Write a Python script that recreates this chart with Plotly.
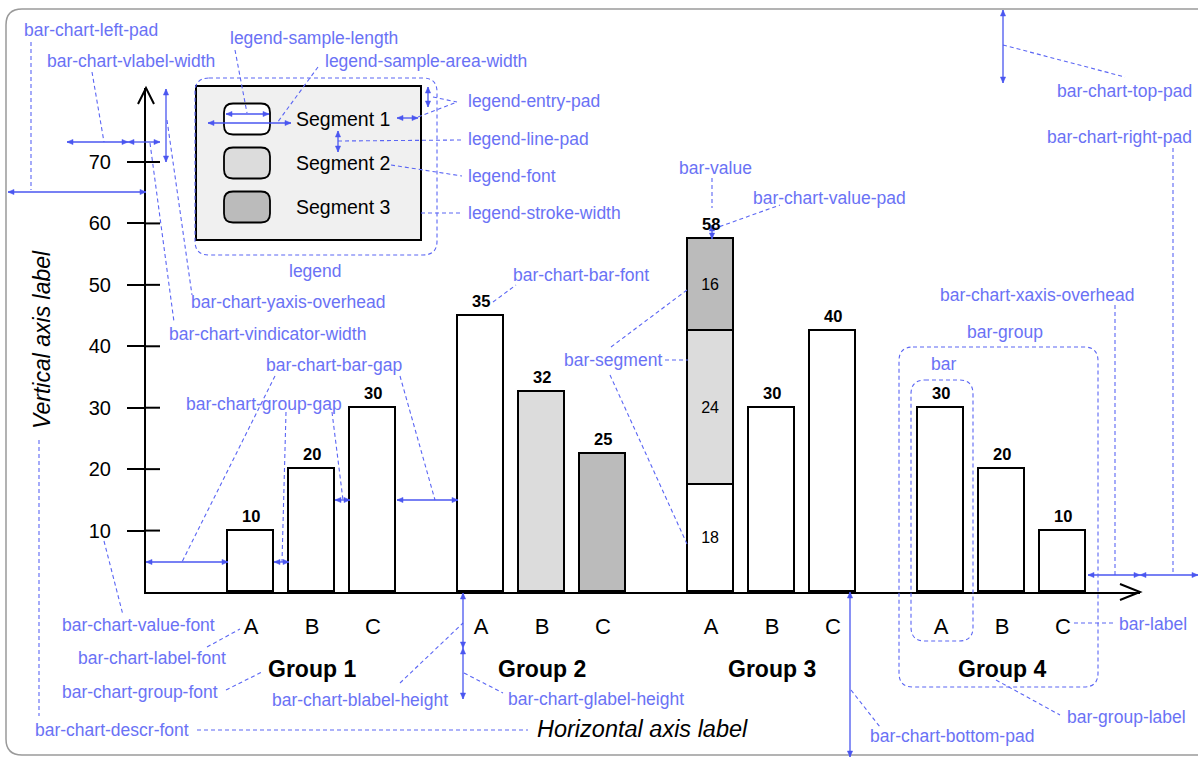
import math
import plotly.graph_objects as go

# ---------------- data ----------------
groups = ["Group 1", "Group 2", "Group 3", "Group 4"]
bar_labels = ["A", "B", "C"]
series_names = ["Segment 1", "Segment 2", "Segment 3"]
seg1 = [10, 20, 30, 45, None, None, 17.5, 30, 42.5, 30, 20, 10]
seg2 = [None, None, None, None, 32.5, None, 25, None, None, None, None, None]
seg3 = [None, None, None, None, None, 22.5, 15, None, None, None, None, None]
seg1_text = ["", "", "", "", "", "", "18", "", "", "", "", ""]
seg2_text = ["", "", "", "", "", "", "24", "", "", "", "", ""]
seg3_text = ["", "", "", "", "", "", "16", "", "", "", "", ""]
value_labels = ["10", "20", "30", "35", "32", "25", "58", "30", "40", "30", "20", "10"]
y_ticks = [10, 20, 30, 40, 50, 60, 70]
x_title = "Horizontal axis label"
y_title = "Vertical axis label"

# ---------------- styling / layout constants ----------------
FONT = "Liberation Sans, Arial, Helvetica, sans-serif"
SEG_COLORS = ["#ffffff", "#dcdcdc", "#bbbbbb"]
BL_TEXT = "#6a72f5"
BL_LINE = "#5b66f4"
BL_ARROW = "#4a56f0"
W, H = 1198, 757
PX0, PX1, PY0, PY1 = 146, 1140, 88, 592   # plot area in pixels
PX_PER_UNIT = 6.143
BAR_W = 46
FIRST, BAR_STEP, GROUP_STEP = 105, 61, 230

x_pos = [FIRST + g * GROUP_STEP + b * BAR_STEP for g in range(len(groups)) for b in range(len(bar_labels))]
series = [seg1, seg2, seg3]
series_text = [seg1_text, seg2_text, seg3_text]
totals = [sum(v for v in col if v is not None) for col in zip(*series)]


def fx(px):
    return (px - PX0) / (PX1 - PX0)


def fy(py):
    return (PY1 - py) / (PY1 - PY0)


fig = go.Figure()
for name, vals, txt, col in zip(series_names, series, series_text, SEG_COLORS):
    fig.add_trace(go.Bar(
        x=x_pos, y=vals, name=name, width=BAR_W, text=txt,
        textposition="inside", insidetextanchor="middle",
        textfont=dict(family=FONT, size=16, color="black"),
        marker=dict(color=col, line=dict(color="black", width=1.8)),
        showlegend=False, hoverinfo="skip",
    ))

shapes = []
annotations = []


def dline(x0, y0, x1, y1):
    shapes.append(dict(type="line", xref="paper", yref="paper",
                       x0=fx(x0), y0=fy(y0), x1=fx(x1), y1=fy(y1),
                       line=dict(color=BL_LINE, width=1.1, dash="4px,3px")))


def head(xa, ya, xb, yb):
    # arrow head at (xb,yb) pointing from (xa,ya)
    dx, dy = xb - xa, yb - ya
    d = math.hypot(dx, dy) or 1
    ux, uy = dx / d, dy / d
    nx, ny = -uy, ux
    L, Wd = 6, 2.6
    p = [(xb, yb), (xb - ux * L + nx * Wd, yb - uy * L + ny * Wd),
         (xb - ux * L - nx * Wd, yb - uy * L - ny * Wd)]
    path = "M" + " L".join(f"{fx(a):.5f},{fy(b):.5f}" for a, b in p) + " Z"
    shapes.append(dict(type="path", xref="paper", yref="paper", path=path,
                       fillcolor=BL_ARROW, line=dict(color=BL_ARROW, width=0.5)))


def arrow(x0, y0, x1, y1):
    shapes.append(dict(type="line", xref="paper", yref="paper",
                       x0=fx(x0), y0=fy(y0), x1=fx(x1), y1=fy(y1),
                       line=dict(color=BL_ARROW, width=1.3)))
    head(x0, y0, x1, y1)
    head(x1, y1, x0, y0)


def rr_path(x0, y0, x1, y1, r):
    pts = [("M", x0 + r, y0), ("L", x1 - r, y0), ("Q", x1, y0, x1, y0 + r),
           ("L", x1, y1 - r), ("Q", x1, y1, x1 - r, y1), ("L", x0 + r, y1),
           ("Q", x0, y1, x0, y1 - r), ("L", x0, y0 + r), ("Q", x0, y0, x0 + r, y0)]
    s = ""
    for p in pts:
        c = p[0]
        coords = p[1:]
        s += c + " ".join(f"{fx(coords[i]):.5f},{fy(coords[i + 1]):.5f}" for i in range(0, len(coords), 2)) + " "
    return s + "Z"


def btext(t, x, cy, anchor="left"):
    annotations.append(dict(text=t, x=fx(x), y=fy(cy), xref="paper", yref="paper",
                            xanchor=anchor, yanchor="middle", showarrow=False,
                            font=dict(family=FONT, size=17.5, color=BL_TEXT)))


# outer frame
shapes.append(dict(type="path", xref="paper", yref="paper", path=rr_path(6, 9, 1230, 755, 16),
                   line=dict(color="#9a9a9a", width=1.5), layer="below"))

# axis arrow heads
shapes.append(dict(type="path", xref="paper", yref="paper",
                   path=f"M{fx(138)},{fy(104)} L{fx(146)},{fy(88)} L{fx(154)},{fy(104)}",
                   line=dict(color="black", width=2)))
shapes.append(dict(type="path", xref="paper", yref="paper",
                   path=f"M{fx(1120)},{fy(584)} L{fx(1140)},{fy(592)} L{fx(1120)},{fy(600)}",
                   line=dict(color="black", width=2)))
# inner part of y ticks
for t in y_ticks:
    shapes.append(dict(type="line", xref="paper", yref="y", x0=fx(146), x1=fx(160), y0=t, y1=t,
                       line=dict(color="black", width=2)))

# legend (drawn from series names / colors)
shapes.append(dict(type="rect", xref="paper", yref="paper", x0=fx(196), x1=fx(421), y0=fy(86), y1=fy(240),
                   fillcolor="#f0f0f0", line=dict(color="black", width=2), layer="below"))
for i, (name, col) in enumerate(zip(series_names, SEG_COLORS)):
    cy = 119 + 44 * i
    shapes.append(dict(type="path", xref="paper", yref="paper", path=rr_path(224, cy - 15.5, 270, cy + 15.5, 9),
                       fillcolor=col, line=dict(color="black", width=1.8)))
    annotations.append(dict(text=name, x=fx(294), y=fy(cy), xref="paper", yref="paper", xanchor="left",
                            yanchor="middle", showarrow=False, font=dict(family=FONT, size=19.5, color="black")))

# value labels above bars
for xp, tot, lab in zip(x_pos, totals, value_labels):
    annotations.append(dict(text=lab, x=xp, y=tot, xref="x", yref="y", yshift=15, yanchor="middle",
                            showarrow=False, font=dict(family=FONT, size=16.5, color="black", weight="bold")))

# group labels
for g, name in enumerate(groups):
    cx = x_pos[g * len(bar_labels) + 1]
    annotations.append(dict(text=name, x=cx, y=fy(669), xref="x", yref="paper", yanchor="middle",
                            showarrow=False, font=dict(family=FONT, size=23, color="black", weight="bold")))

# axis titles
annotations.append(dict(text=y_title, x=fx(42), y=fy(340), xref="paper", yref="paper", textangle=-90,
                        showarrow=False, xanchor="center", yanchor="middle",
                        font=dict(family=FONT, size=23, color="black", style="italic")))
annotations.append(dict(text=x_title, x=fx(642), y=fy(729), xref="paper", yref="paper",
                        showarrow=False, xanchor="center", yanchor="middle",
                        font=dict(family=FONT, size=23.5, color="black", style="italic")))

# ---------------- blue explanatory annotations ----------------
btext("bar-chart-left-pad", 22, 30)
dline(31, 42, 31, 190); arrow(8, 192, 146, 192)
btext("bar-chart-vlabel-width", 45, 61)
dline(92, 72, 104, 142); arrow(67, 142, 128, 142)
arrow(128, 142, 160, 142)
arrow(166, 89, 166, 162)
btext("legend-sample-length", 228, 38)
dline(235, 50, 247, 113); arrow(226, 114, 269, 114)
btext("legend-sample-area-width", 323, 61)
dline(318, 67, 277, 123); arrow(208, 123, 291, 123)
btext("legend-entry-pad", 466, 101)
dline(433, 97, 457, 102); dline(418, 117, 457, 102)
arrow(428, 87, 428, 107); arrow(397, 118, 418, 118)
btext("legend-line-pad", 466, 139)
dline(338, 141, 462, 140); arrow(338, 131, 338, 152)
btext("legend-font", 466, 176)
dline(391, 165, 462, 176)
btext("legend-stroke-width", 466, 213)
dline(421, 213, 462, 213)
btext("legend", 287, 271)
shapes.append(dict(type="path", xref="paper", yref="paper", path=rr_path(195, 78, 437, 255, 14),
                   line=dict(color=BL_LINE, width=1.1, dash="4px,3px")))
btext("bar-chart-yaxis-overhead", 189, 302)
dline(167, 120, 192, 295)
btext("bar-chart-vindicator-width", 167, 334)
dline(150, 143, 174, 322)
btext("bar-chart-bar-font", 511, 275)
dline(493, 302, 516, 285)
btext("bar-value", 677, 168)
dline(712, 178, 712, 208)
btext("bar-chart-value-pad", 751, 198)
dline(713, 229, 780, 205); arrow(712, 225, 712, 239)
btext("bar-chart-top-pad", 1194, 91, "right")
dline(1003, 45, 1125, 77); arrow(1003, 10, 1003, 83)
btext("bar-chart-right-pad", 1194, 137, "right")
dline(1173, 148, 1173, 575); arrow(1140, 575, 1198, 575)
btext("bar-chart-xaxis-overhead", 938, 295)
dline(1115, 305, 1115, 575); arrow(1088, 575, 1140, 575)
btext("bar-group", 965, 332)
shapes.append(dict(type="path", xref="paper", yref="paper", path=rr_path(899, 347, 1098, 687, 14),
                   line=dict(color=BL_LINE, width=1.1, dash="4px,3px")))
btext("bar", 929, 364)
shapes.append(dict(type="path", xref="paper", yref="paper", path=rr_path(911, 380, 973, 641, 14),
                   line=dict(color=BL_LINE, width=1.1, dash="4px,3px")))
btext("bar-segment", 562, 360)
dline(665, 360, 688, 360); dline(611, 347, 687, 290); dline(610, 375, 687, 544)
btext("bar-chart-bar-gap", 264, 365)
dline(275, 376, 182, 562); dline(400, 376, 435, 500)
btext("bar-chart-group-gap", 184, 404)
dline(286, 412, 282, 562); dline(332, 412, 343, 500)
arrow(146, 562, 228, 562); arrow(274, 562, 289, 562)
arrow(335, 500, 350, 500); arrow(397, 500, 458, 500)
btext("bar-chart-value-font", 60, 625)
dline(104, 541, 123, 615)
btext("bar-chart-label-font", 76, 658)
dline(207, 647, 240, 629)
btext("bar-chart-group-font", 60, 692)
dline(226, 690, 262, 672)
btext("bar-chart-blabel-height", 270, 700)
dline(400, 683, 463, 623); arrow(463, 593, 463, 648)
btext("bar-chart-glabel-height", 506, 699)
dline(464, 673, 503, 693); arrow(463, 648, 463, 699)
btext("bar-chart-descr-font", 33, 730)
dline(197, 730, 528, 730); dline(39, 440, 39, 716)
btext("bar-label", 1117, 624)
dline(1074, 623, 1114, 623)
btext("bar-group-label", 1065, 717)
dline(996, 680, 1060, 715)
btext("bar-chart-bottom-pad", 868, 736)
dline(851, 690, 880, 727); arrow(850, 592, 850, 757)

fig.update_layout(
    width=W, height=H, barmode="stack", bargap=0,
    margin=dict(l=PX0, r=W - PX1, t=PY0, b=H - PY1, pad=0),
    paper_bgcolor="white", plot_bgcolor="rgba(0,0,0,0)",
    font=dict(family=FONT, color="black"),
    shapes=shapes, annotations=annotations, showlegend=False,
    xaxis=dict(range=[0, PX1 - PX0], showgrid=False, zeroline=False, showline=True,
               linecolor="black", linewidth=2, tickvals=x_pos,
               ticktext=bar_labels * len(groups), ticks="", ticklabelstandoff=14,
               tickfont=dict(family=FONT, size=22, color="black"), fixedrange=True),
    yaxis=dict(range=[0, (PY1 - PY0) / PX_PER_UNIT], showgrid=False, zeroline=False, showline=True,
               linecolor="black", linewidth=2, tickvals=y_ticks, ticks="outside", ticklen=17,
               tickwidth=2, tickcolor="black", ticklabelstandoff=12,
               tickfont=dict(family=FONT, size=20, color="black"), fixedrange=True),
)

fig.write_html("out.html", config={"displayModeBar": False},
               post_script="document.body.style.margin='0';document.body.style.overflow='hidden';")
